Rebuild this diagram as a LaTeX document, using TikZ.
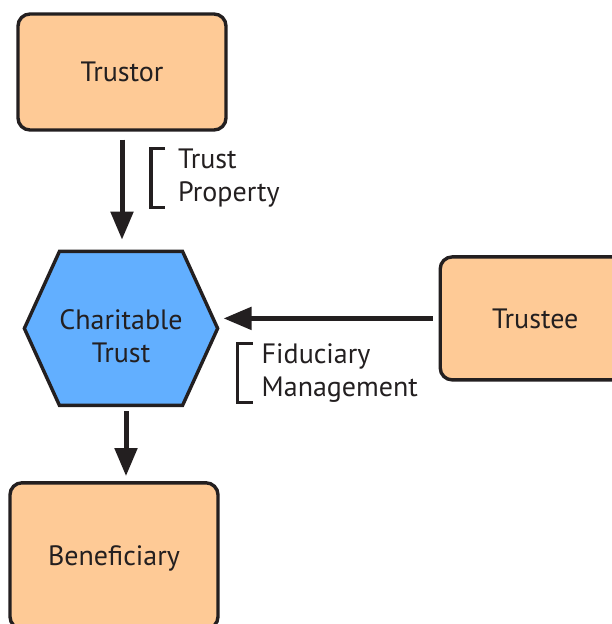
\documentclass[tikz,border=0pt]{standalone}
\usepackage{fontspec}
\setmainfont{PT Sans}
\usepackage{xcolor}
\usepackage{tikz}
\usetikzlibrary{shapes,arrows,positioning,arrows.meta}

\definecolor{ink}{HTML}{231F20}
\definecolor{partyfill}{HTML}{FECA96}
\definecolor{trustfill}{HTML}{62AFFF}

\begin{document}
\begin{tikzpicture}[
            x=1pt, y=1pt,
            font=\fontsize{28}{33}\selectfont,
            party/.style={rectangle, rounded corners=12pt, draw=ink, fill=partyfill, line width=3.4pt, text=ink, minimum width=208pt, minimum height=116pt},
            entity/.style={signal, signal to=east and west, signal pointer angle=131, draw=ink, fill=trustfill, line width=3.4pt, text=ink, align=center, inner sep=0pt, minimum width=190pt, minimum height=154pt},
            flow/.style={-{Triangle[length=28pt,width=22pt]}, line width=5pt, draw=ink},
            note/.style={align=left, inner sep=0pt, text=ink},
            bracket/.style={line width=3.4pt, draw=ink}
        ]
        \useasboundingbox (0,0) rectangle (612,-624);

        \node[party] (trustor) at (122,-72) {Trustor};
        \node[entity] (charity) [below=118pt of trustor, xshift=-1pt] {\rule{0pt}{36pt}Charitable\\Trust};
        \node[party, minimum width=190pt, minimum height=123pt] (trustee) [right=219pt of charity, yshift=10pt] {Trustee};
        \node[party, minimum height=146pt] (beneficiary) [below=74pt of charity, xshift=-7pt] {\rule{0pt}{26pt}Beneficiary};

        \draw[flow, shorten <=8pt, shorten >=10pt] (trustor.south) -- (trustor.south |- charity.north);
        \draw[flow, shorten <=6pt, shorten >=4pt] (trustee.west) -- (trustee.west -| charity.east);
        \draw[flow, shorten <=4pt, shorten >=5pt] ([xshift=5pt]charity.south) -- ([xshift=5pt]charity.south |- beneficiary.north);

        \node[note] (propnote) [below right=17pt and 56pt of trustor.south] {Trust\\Property};
        \node[note] (dutynote) [below right=15pt and 42pt of charity.east] {Fiduciary\\Management};

        \draw[bracket] ([xshift=-13pt]propnote.north west) -- ([xshift=-27pt]propnote.north west) -- ([xshift=-27pt]propnote.south west) -- ([xshift=-13pt]propnote.south west);
        \draw[bracket] ([xshift=-9pt]dutynote.north west) -- ([xshift=-24pt]dutynote.north west) -- ([xshift=-24pt]dutynote.south west) -- ([xshift=-9pt]dutynote.south west);

    \end{tikzpicture}
\end{document}
